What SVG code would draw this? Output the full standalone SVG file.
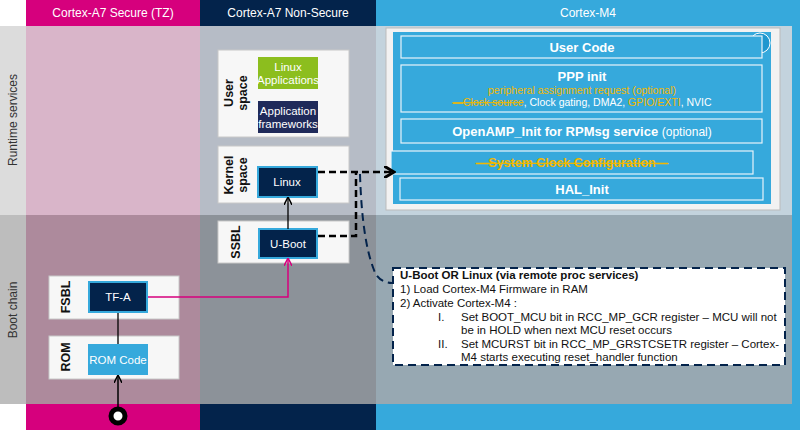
<svg xmlns="http://www.w3.org/2000/svg" width="800" height="430" viewBox="0 0 800 430">
<style>
text{font-family:"Liberation Sans",Arial,sans-serif}
.hdr{fill:#fff;font-size:12px;text-anchor:middle}
.box{fill:#f7f7f7;stroke:#c8c8c8;stroke-width:1}
.lbl{font-size:12.5px;font-weight:bold;fill:#111;text-anchor:middle}
.wt{fill:#fff;font-size:11.5px;text-anchor:middle}
.m4{fill:#36a9dc;stroke:#e8f4fa;stroke-width:1.2}
.mt{fill:#fff;font-size:13px;font-weight:bold;text-anchor:middle}
.nt{font-size:11.5px;fill:#111}
</style>
<defs>
<marker id="ah" markerWidth="8" markerHeight="8" refX="7" refY="4" orient="auto" markerUnits="userSpaceOnUse"><path d="M0,0 L8,4 L0,8" fill="none" stroke="#000" stroke-width="1.5"/></marker>
<marker id="ahp" markerWidth="8" markerHeight="8" refX="7" refY="4" orient="auto" markerUnits="userSpaceOnUse"><path d="M0,0 L8,4 L0,8" fill="none" stroke="#d6007d" stroke-width="1.5"/></marker>
<marker id="ahb" markerWidth="12" markerHeight="12" refX="10" refY="6" orient="auto" markerUnits="userSpaceOnUse"><path d="M0,0 L10,6 L0,12" fill="none" stroke="#000" stroke-width="3"/></marker>
</defs>
<rect width="800" height="430" fill="#fff"/>
<rect x="0" y="26" width="26" height="189" fill="#dcdcdc"/>
<rect x="0" y="215" width="26" height="189" fill="#bdbdbd"/>
<rect x="26" y="26" width="174" height="189" fill="#d9b5c9"/>
<rect x="200" y="26" width="176" height="189" fill="#b6bcc6"/>
<rect x="376" y="26" width="424" height="189" fill="#c3d3dd"/>
<rect x="26" y="215" width="174" height="189" fill="#ad8a9c"/>
<rect x="200" y="215" width="176" height="189" fill="#8c9299"/>
<rect x="376" y="215" width="424" height="189" fill="#97a8b2"/>
<rect x="792" y="0" width="8" height="430" fill="#36a9dc"/>
<rect x="26" y="0" width="174" height="26" fill="#d6007d"/>
<rect x="200" y="0" width="176" height="26" fill="#03234b"/>
<rect x="376" y="0" width="424" height="26" fill="#36a9dc"/>
<rect x="26" y="404" width="174" height="26" fill="#d6007d"/>
<rect x="200" y="404" width="176" height="26" fill="#03234b"/>
<rect x="376" y="404" width="424" height="26" fill="#36a9dc"/>
<text class="hdr" x="113" y="17">Cortex-A7 Secure (TZ)</text>
<text class="hdr" x="288" y="17">Cortex-A7 Non-Secure</text>
<text class="hdr" x="588" y="17">Cortex-M4</text>
<text transform="translate(17,120) rotate(-90)" font-size="12" fill="#333" text-anchor="middle">Runtime services</text>
<text transform="translate(17,310) rotate(-90)" font-size="12" fill="#333" text-anchor="middle">Boot chain</text>

<g id="user-space">
<rect class="box" x="218" y="50" width="131" height="87"/>
<text class="lbl" transform="translate(237,93) rotate(-90)"><tspan x="0" y="-4">User</tspan><tspan x="0" y="10">space</tspan></text>
<rect x="258" y="57" width="60" height="32" fill="#8cbe1e"/>
<text class="wt" x="288" y="71">Linux</text><text class="wt" x="288" y="84">Applications</text>
<rect x="258" y="101" width="60" height="32" fill="#1f2a5a"/>
<text class="wt" x="288" y="115">Application</text><text class="wt" x="288" y="128">frameworks</text>
</g>
<g id="kernel-space">
<rect class="box" x="218" y="146" width="131" height="57"/>
<text class="lbl" transform="translate(237,175) rotate(-90)"><tspan x="0" y="-4">Kernel</tspan><tspan x="0" y="10">space</tspan></text>
<rect x="258" y="167" width="59" height="30" fill="#03234b" stroke="#36a9dc" stroke-width="2"/>
<text class="wt" x="287" y="186">Linux</text>
</g>
<g id="ssbl">
<rect class="box" x="218" y="221" width="131" height="42"/>
<text class="lbl" transform="translate(236,242) rotate(-90)" y="4">SSBL</text>
<rect x="259" y="229" width="58" height="29" fill="#03234b" stroke="#36a9dc" stroke-width="2"/>
<text class="wt" x="288" y="248">U-Boot</text>
</g>
<g id="fsbl">
<rect class="box" x="49" y="276" width="130" height="43"/>
<text class="lbl" transform="translate(66,297) rotate(-90)" y="4">FSBL</text>
<rect x="89" y="282" width="58" height="30" fill="#03234b" stroke="#36a9dc" stroke-width="2"/>
<text class="wt" x="118" y="301">TF-A</text>
</g>
<g id="rom">
<rect class="box" x="49" y="336" width="130" height="43"/>
<text class="lbl" transform="translate(66,357) rotate(-90)" y="4">ROM</text>
<rect x="88" y="344" width="60" height="31" fill="#36a9dc"/>
<text class="wt" x="118" y="364">ROM Code</text>
</g>
<g id="start">
<circle cx="118" cy="416" r="7" fill="#fff" stroke="#000" stroke-width="5"/>
</g>

<g id="cortex-m4">
<rect x="386" y="28" width="394" height="182" fill="#f2f2f2" stroke="#bbb"/>
<rect x="393" y="32" width="378" height="172" fill="#36a9dc"/>
<circle cx="760" cy="43" r="10" fill="#1f97cf" stroke="#fff" stroke-width="1"/>
<g id="user-code"><rect class="m4" x="401" y="36" width="361" height="22"/><text class="mt" x="582" y="52">User Code</text></g>
<g id="ppp-init"><rect class="m4" x="401" y="65" width="361" height="47"/><text class="mt" x="582" y="81">PPP init</text>
<text x="582" y="94" font-size="10.5" fill="#f2b800" text-anchor="middle">peripheral assignment  request (optional)</text>
<text x="582" y="106" font-size="10.5" fill="#fff" text-anchor="middle"><tspan fill="#f2b800" text-decoration="line-through">—Clock source</tspan>, Clock gating, DMA2, <tspan fill="#f2b800">GPIO/EXTI</tspan>, NVIC</text></g>
<g id="openamp"><rect class="m4" x="401" y="119" width="361" height="24"/><text class="mt" x="582" y="136">OpenAMP_Init for RPMsg service <tspan font-weight="normal" font-size="12">(optional)</tspan></text></g>
<g id="sysclk"><rect class="m4" x="391" y="151" width="362" height="23"/><text x="572" y="167" font-size="12.5" font-weight="bold" fill="#f2b800" text-anchor="middle" text-decoration="line-through">—System Clock Configuration—</text></g>
<g id="hal-init"><rect class="m4" x="400" y="178" width="363" height="22"/><text class="mt" x="582" y="194">HAL_Init</text></g>
</g>

<g id="connectors">
<line x1="288" y1="229" x2="288" y2="198" stroke="#000" stroke-width="1.3" marker-end="url(#ah)"/>
<polyline points="148,297 288,297 288,259" fill="none" stroke="#d6007d" stroke-width="1.5" marker-end="url(#ahp)"/>
<line x1="118" y1="313" x2="118" y2="344" stroke="#000" stroke-width="1.3"/>
<line x1="118" y1="410" x2="118" y2="376" stroke="#000" stroke-width="1.5" marker-end="url(#ah)"/>
<polyline points="318,172 360,172 394,172" fill="none" stroke="#000" stroke-width="2.5" stroke-dasharray="7,4" marker-end="url(#ahb)"/>
<polyline points="318,236 356,236 356,172" fill="none" stroke="#000" stroke-width="2.5" stroke-dasharray="7,4"/>
<path d="M360,174 Q362,240 374,270 Q378,282 392,283" fill="none" stroke="#03234b" stroke-width="2" stroke-dasharray="8,5"/>
</g>

<g id="note">
<rect x="393" y="268" width="392" height="97" fill="#fff" stroke="#03234b" stroke-width="2" stroke-dasharray="8,5"/>
<text class="nt" x="400" y="279" font-weight="bold">U-Boot OR Linux (via remote proc services)</text>
<text class="nt" x="400" y="293">1)   Load Cortex-M4 Firmware in RAM</text>
<text class="nt" x="400" y="307">2)   Activate Cortex-M4 :</text>
<text class="nt" x="438" y="321">I.</text><text class="nt" x="461" y="321">Set BOOT_MCU bit in RCC_MP_GCR register – MCU will not</text>
<text class="nt" x="461" y="334">be in HOLD when next MCU reset occurs</text>
<text class="nt" x="438" y="348">II.</text><text class="nt" x="461" y="348">Set MCURST bit in RCC_MP_GRSTCSETR register – Cortex-</text>
<text class="nt" x="461" y="361">M4 starts executing reset_handler function</text>
</g>
</svg>
